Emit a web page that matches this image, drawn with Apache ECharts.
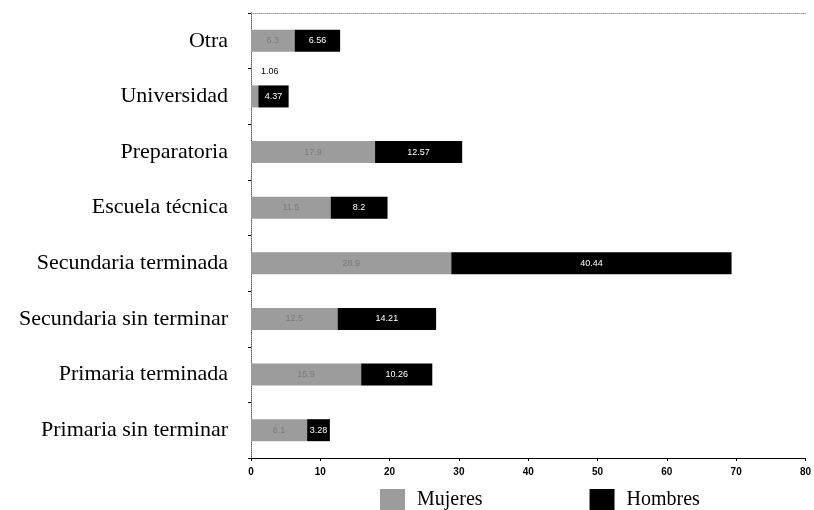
<!DOCTYPE html>
<html>
<head>
<meta charset="utf-8">
<script src="https://cdn.jsdelivr.net/npm/echarts@6/dist/echarts.min.js"></script>
<style>
  html, body { margin: 0; padding: 0; background: #fff; }
  #chart { width: 814px; height: 510px; }
</style>
</head>
<body>
<div id="chart"></div>
<script>
// categorias de abajo hacia arriba
const categorias = ['Primaria sin terminar', 'Primaria terminada', 'Secundaria sin terminar',
    'Secundaria terminada', 'Escuela técnica', 'Preparatoria', 'Universidad', 'Otra'];
const mujeres = [8.1, 15.9, 12.5, 28.9, 11.5, 17.9, 1.06, 6.3];
const hombres = [3.28, 10.26, 14.21, 40.44, 8.2, 12.57, 4.37, 6.56];
const ticksX = [0, 10, 20, 30, 40, 50, 60, 70, 80];

const chart = echarts.init(document.getElementById('chart'));

const serif = '"Liberation Serif", "DejaVu Serif", serif';
const sans = '"Liberation Sans", Arial, sans-serif';

const mujeresData = mujeres.map((v, i) => {
    if (categorias[i] === 'Universidad') {
        // etiqueta fuera de la barra, muy corta
        return {
            value: v,
            label: { position: 'top', offset: [15, -4], color: '#000' }
        };
    }
    return v;
});

chart.setOption({
    animation: false,
    color: ['#9c9c9c', '#000000'],
    grid: { left: 251, right: 6, top: 13, bottom: 52, containLabel: false },
    legend: {
        data: ['Mujeres', 'Hombres'],
        left: 375,
        top: 484,
        itemWidth: 25,
        itemHeight: 22,
        itemGap: 107,
        icon: 'rect',
        textStyle: { fontFamily: serif, fontSize: 20, color: '#000', padding: [0, 0, 0, 7] }
    },
    xAxis: [{
        type: 'value',
        min: ticksX[0],
        max: ticksX[ticksX.length - 1],
        interval: 10,
        axisLine: { show: true, lineStyle: { color: '#000', width: 1 } },
        axisTick: { show: true, length: 3, lineStyle: { color: '#000' } },
        axisLabel: { color: '#000', fontFamily: sans, fontSize: 10, fontWeight: 'bold', margin: 9 },
        splitLine: { show: false }
    }, {
        type: 'value',
        position: 'top',
        min: 0,
        max: 80,
        axisLine: { show: true, lineStyle: { color: '#999', width: 1, type: 'dotted' } },
        axisTick: { show: false },
        axisLabel: { show: false },
        splitLine: { show: false }
    }],
    yAxis: [{
        type: 'category',
        data: categorias,
        axisLine: { show: true, lineStyle: { color: '#000', width: 1 } },
        axisTick: { show: true, length: 3, lineStyle: { color: '#000' } },
        axisLabel: { color: '#000', fontFamily: serif, fontSize: 22, margin: 23 }
    }, {
        type: 'category',
        position: 'right',
        data: categorias,
        axisLine: { show: true, lineStyle: { color: '#999', width: 1, type: 'dotted' } },
        axisTick: { show: false },
        axisLabel: { show: false }
    }],
    series: [{
        name: 'Mujeres',
        type: 'bar',
        stack: 'total',
        barWidth: 22,
        data: mujeresData,
        label: {
            show: true,
            position: 'inside',
            color: '#7a7a7a',
            fontFamily: sans,
            fontSize: 9
        }
    }, {
        name: 'Hombres',
        type: 'bar',
        stack: 'total',
        barWidth: 22,
        data: hombres,
        label: {
            show: true,
            position: 'inside',
            color: '#fff',
            fontFamily: sans,
            fontSize: 9
        }
    }]
});
</script>
</body>
</html>
